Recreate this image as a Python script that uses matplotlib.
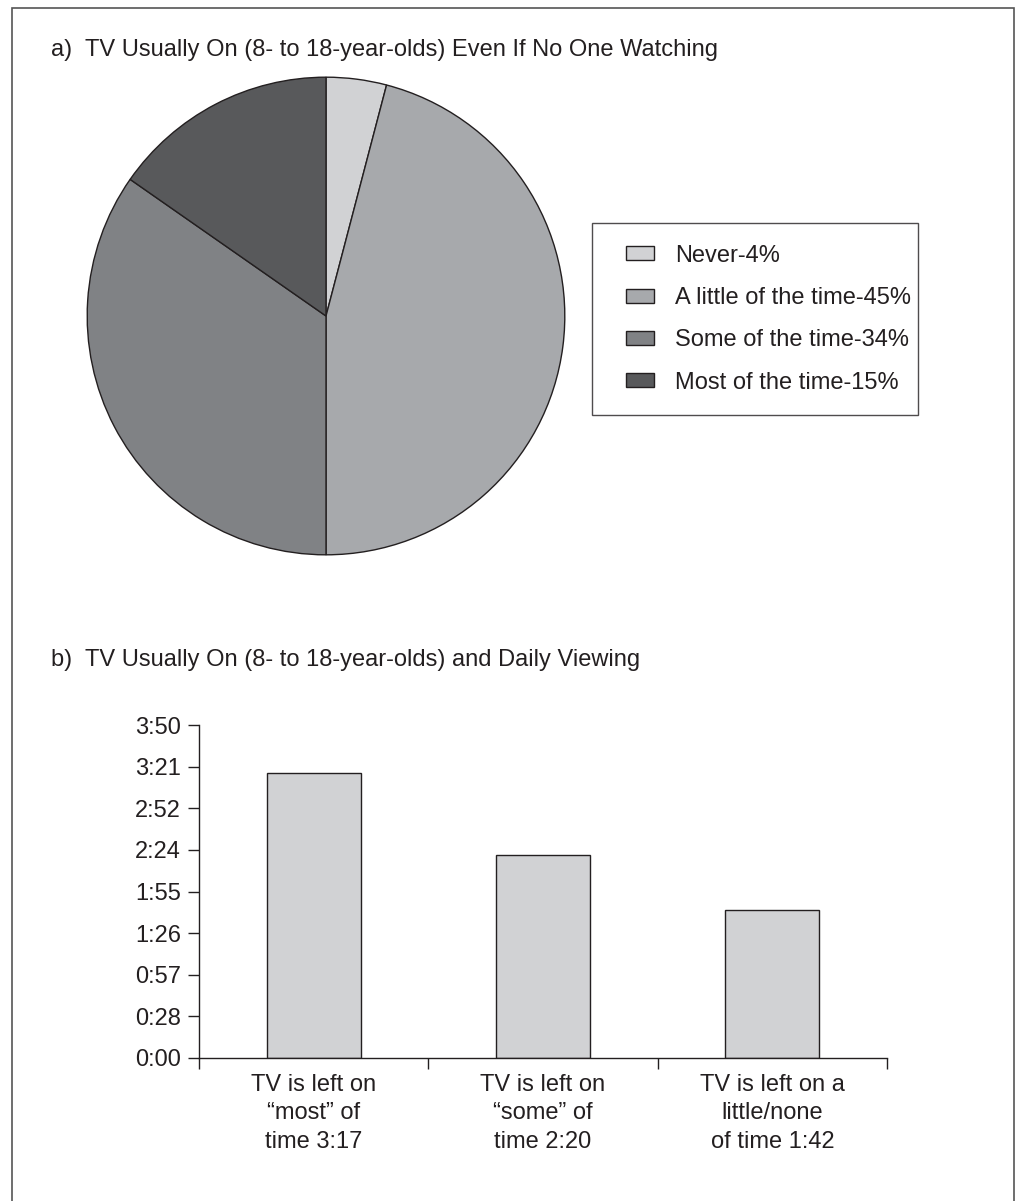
import matplotlib
matplotlib.use('Agg')
import matplotlib.pyplot as plt
from matplotlib.patches import Rectangle
from matplotlib.legend_handler import HandlerPatch

plt.rcParams['font.family'] = ['Liberation Sans', 'DejaVu Sans']

EDGE = '#231f20'
FS = 17

# a) share of kids by how often the TV is left on
pie_labels = ['Never-4%', 'A little of the time-45%', 'Some of the time-34%', 'Most of the time-15%']
pie_values = [4, 45, 34, 15]
pie_colors = ['#d1d2d4', '#a7a9ac', '#808285', '#58595b']

# b) average daily viewing (minutes) by group
bar_labels = ['TV is left on\n\u201cmost\u201d of\ntime 3:17',
              'TV is left on\n\u201csome\u201d of\ntime 2:20',
              'TV is left on a\nlittle/none\nof time 1:42']
bar_minutes = [197, 140, 102]
y_ticks = [0, 28.75, 57.5, 86.25, 115, 143.75, 172.5, 201.25, 230]
y_tick_labels = ['0:00', '0:28', '0:57', '1:26', '1:55', '2:24', '2:52', '3:21', '3:50']

W, H = 1016, 1201
fig = plt.figure(figsize=(W / 100, H / 100), dpi=100)

def fx(px): return px / W
def fy(py): return 1 - py / H

# outer frame
fig.patches.append(Rectangle((fx(12), fy(1205)), fx(1014) - fx(12), fy(8) - fy(1205),
                             transform=fig.transFigure, fill=False, edgecolor='#555555', lw=1.2))

fig.text(fx(51), fy(50), 'a)  TV Usually On (8- to 18-year-olds) Even If No One Watching',
         fontsize=FS, va='center', ha='left', color=EDGE)
fig.text(fx(51), fy(660), 'b)  TV Usually On (8- to 18-year-olds) and Daily Viewing',
         fontsize=FS, va='center', ha='left', color=EDGE)

# pie
ax1 = fig.add_axes([fx(86), fy(556), fx(566) - fx(86), fy(76) - fy(556)])
wedges, _ = ax1.pie(pie_values, colors=pie_colors, startangle=90, counterclock=False,
                    radius=1, wedgeprops=dict(edgecolor=EDGE, linewidth=1.0))
ax1.set_xlim(-1.005, 1.005)
ax1.set_ylim(-1.005, 1.005)
ax1.set_aspect('equal')
ax1.axis('off')

# legend swatches sit a bit in from the frame
leg = fig.legend(wedges, pie_labels, loc='upper left',
                 bbox_to_anchor=(fx(592), fy(412), fx(918) - fx(592), fy(223) - fy(412)),
                 mode='expand', fontsize=FS, frameon=True, fancybox=False,
                 edgecolor=EDGE, borderpad=0.92, labelspacing=0.86,
                 handlelength=1.7, handleheight=0.52, handletextpad=0.9,
                 borderaxespad=0, handler_map={matplotlib.patches.Wedge: HandlerPatch(xpad=0.5)})
leg.get_frame().set_linewidth(1.0)
for t in leg.get_texts():
    t.set_color(EDGE)

# bars
ax2 = fig.add_axes([fx(199), fy(1058), fx(887) - fx(199), fy(725) - fy(1058)])
x = list(range(len(bar_minutes)))
ax2.bar(x, bar_minutes, width=0.41, color='#d1d2d4', edgecolor=EDGE, linewidth=1.0)
ax2.set_xlim(-0.5, 2.5)
ax2.set_ylim(0, 230)
ax2.set_yticks(y_ticks)
ax2.set_yticklabels(y_tick_labels)
ax2.set_xticks([-0.5, 0.5, 1.5, 2.5])
ax2.set_xticklabels([])
ax2.tick_params(axis='y', direction='out', length=8, width=1, colors=EDGE, labelsize=FS, pad=5)
ax2.tick_params(axis='x', direction='out', length=8, width=1, colors=EDGE)
for i, lab in enumerate(bar_labels):
    ax2.text(i, -11, lab, ha='center', va='top', fontsize=FS, color=EDGE,
             linespacing=1.38, transform=ax2.transData)
for s in ['top', 'right']:
    ax2.spines[s].set_visible(False)
for s in ['left', 'bottom']:
    ax2.spines[s].set_color(EDGE)
    ax2.spines[s].set_linewidth(1.0)

fig.savefig('out.png', dpi=100)
